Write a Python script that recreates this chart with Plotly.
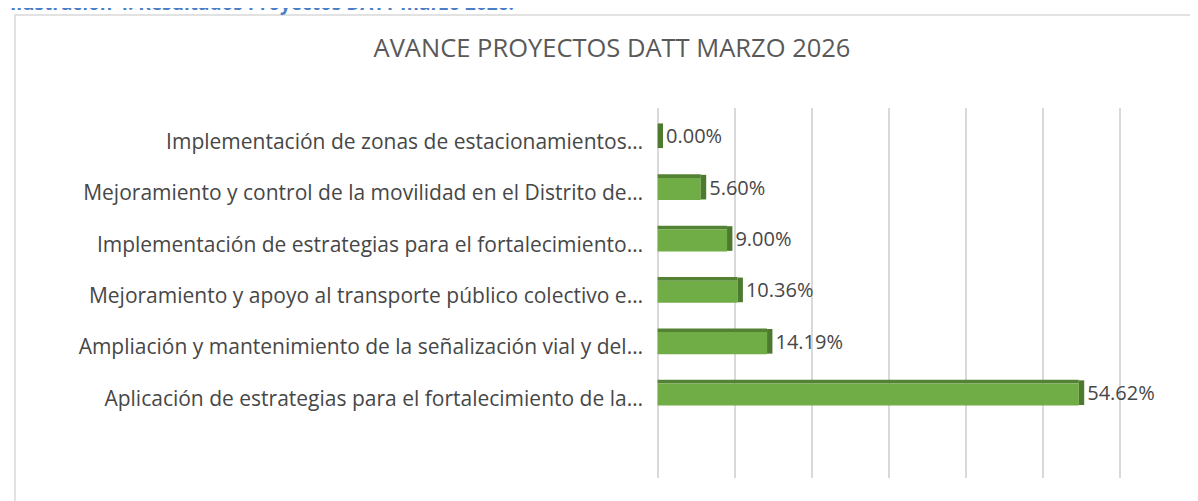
import plotly.graph_objects as go

# ---- data ----
proyectos = [
    "Implementación de zonas de estacionamientos…",
    "Mejoramiento y control de la movilidad en el Distrito de…",
    "Implementación de estrategias para el fortalecimiento…",
    "Mejoramiento y apoyo al transporte público colectivo e…",
    "Ampliación y mantenimiento de la señalización vial y del…",
    "Aplicación de estrategias para el fortalecimiento de la…",
]
avance = [0.00, 5.60, 9.00, 10.36, 14.19, 54.62]
titulo = "AVANCE PROYECTOS DATT MARZO 2026"
leyenda = "Ilustración 4. Resultados Proyectos DATT marzo 2026."

# ---- layout constants ----
W, H = 1198, 501
L, R, T, B = 645, 78, 100, 31
PW, PH = W - L - R, H - T - B
PROF = 0.7  # visual depth of bar end face (in axis units)

VERDE = "#70AD47"
VERDE_OSC = "#548235"
VERDE_FIN = "#4E7A30"
GRIS_TXT = "#474747"
FONT = "Open Sans"

fig = go.Figure()
# top face (darker band)
fig.add_trace(go.Bar(
    y=proyectos, x=avance, orientation="h",
    marker=dict(color=VERDE_OSC, line=dict(width=0)),
    width=0.07, offset=-0.36, hoverinfo="skip", showlegend=False,
))
# front face
fig.add_trace(go.Bar(
    y=proyectos, x=avance, orientation="h",
    marker=dict(color=VERDE, line=dict(width=0)),
    width=0.43, offset=-0.29, showlegend=False,
))
# end face + labels
fig.add_trace(go.Bar(
    y=proyectos, x=[PROF] * len(avance), base=avance, orientation="h",
    marker=dict(color=VERDE_FIN, line=dict(width=0)),
    width=0.48, offset=-0.35, showlegend=False,
    text=[f"{v:.2f}%" for v in avance], textposition="outside",
    constraintext="none",
    textfont=dict(family=FONT, size=20, color=GRIS_TXT),
    cliponaxis=False,
))

fig.update_layout(
    width=W, height=H,
    margin=dict(l=L, r=R, t=T, b=B),
    paper_bgcolor="white", plot_bgcolor="white",
    barmode="overlay",
    title=dict(text=titulo, x=604 / W, xanchor="center",
               yref="container", y=1 - 40 / H, yanchor="middle",
               font=dict(family=FONT, size=25.5, color="#595959")),
    xaxis=dict(range=[-0.6, 61], dtick=10, showgrid=True, gridcolor="#D9D9D9",
               gridwidth=1.5, showticklabels=False, zeroline=False,
               showline=False, ticks=""),
    yaxis=dict(range=[6.55, -0.65], showgrid=False, zeroline=False,
               showline=False, ticks="", ticklabelstandoff=9,
               tickfont=dict(family=FONT, size=21, color=GRIS_TXT)),
    font=dict(family=FONT),
    annotations=[dict(
        text=f"<b>{leyenda}</b>", xref="paper", yref="paper",
        x=(0 - L) / PW, xanchor="left",
        y=1 + (T + 5) / PH, yanchor="middle", showarrow=False,
        font=dict(family=FONT, size=19, color="#4A7EC8"),
    )],
    shapes=[dict(
        type="rect", xref="paper", yref="paper",
        x0=(7 - L) / PW, x1=(W + 20 - L) / PW,
        y0=1 + (T - 7) / PH, y1=-(B + 20) / PH,
        line=dict(color="#D9D9D9", width=1.5), fillcolor="rgba(0,0,0,0)",
        layer="below",
    )],
)

fig.write_html("out.html")
